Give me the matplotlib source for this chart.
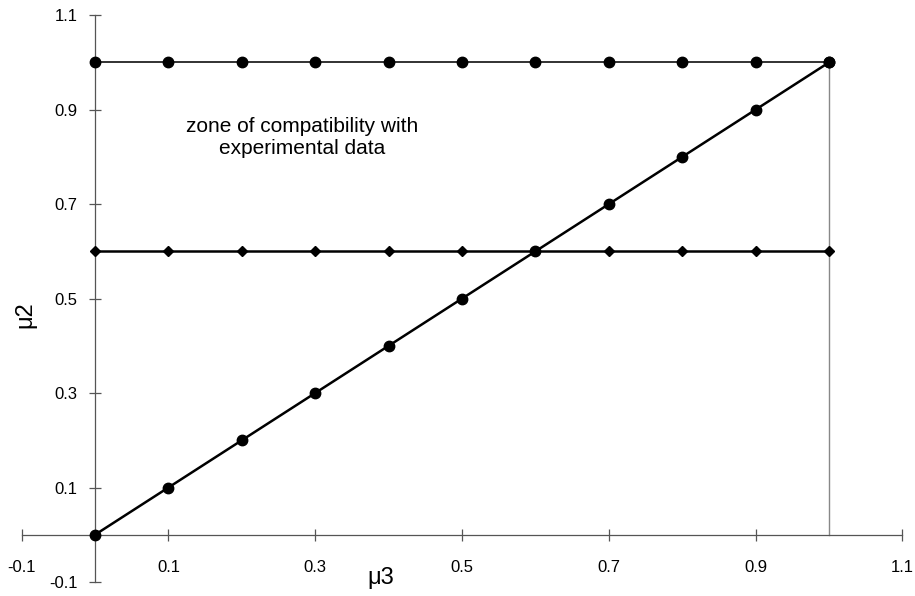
import matplotlib
matplotlib.use("Agg")
import matplotlib.pyplot as plt
import numpy as np

plt.rcParams['font.family'] = ['Liberation Sans', 'DejaVu Sans']

# data
mu3 = [0.0, 0.1, 0.2, 0.3, 0.4, 0.5, 0.6, 0.7, 0.8, 0.9, 1.0]
upper = [1.0, 1.0, 1.0, 1.0, 1.0, 1.0, 1.0, 1.0, 1.0, 1.0, 1.0]
lower = [0.6, 0.6, 0.6, 0.6, 0.6, 0.6, 0.6, 0.6, 0.6, 0.6, 0.6]
diag = [0.0, 0.1, 0.2, 0.3, 0.4, 0.5, 0.6, 0.7, 0.8, 0.9, 1.0]
edge_x = [1.0, 1.0]
edge_y = [0.0, 1.0]

ticks = [-0.1, 0.1, 0.3, 0.5, 0.7, 0.9, 1.1]
tick_labels = ["-0.1", "0.1", "0.3", "0.5", "0.7", "0.9", "1.1"]

zone_text = "zone of compatibility with\nexperimental data"

fig = plt.figure(figsize=(9.15, 5.96), dpi=100)
ax = fig.add_axes([0.0236, 0.0235, 0.9626, 0.951])

ax.plot(edge_x, edge_y, color="#888888", linewidth=1.0, zorder=2)
ax.plot(mu3, upper, color="#222222", linewidth=1.3, marker="o", markersize=7.5,
        markerfacecolor="black", markeredgecolor="black", zorder=3)
ax.plot(mu3, lower, color="black", linewidth=1.8, marker="D", markersize=5.2,
        markerfacecolor="black", markeredgecolor="black", zorder=3)
ax.plot(mu3, diag, color="black", linewidth=1.8, marker="o", markersize=7.5,
        markerfacecolor="black", markeredgecolor="black", zorder=4)

ax.text(0.282, 0.841, zone_text, ha="center", va="center", fontsize=15,
        linespacing=1.2)

ax.set_xlim(-0.1, 1.1)
ax.set_ylim(-0.1, 1.1)

for side in ["top", "right"]:
    ax.spines[side].set_visible(False)
for side in ["left", "bottom"]:
    ax.spines[side].set_position(("data", 0))
    ax.spines[side].set_color("#555555")
    ax.spines[side].set_linewidth(0.9)

ax.set_xticks(ticks)
ax.set_xticklabels(tick_labels)
ax.set_yticks(ticks)
ax.set_yticklabels(tick_labels)
ax.tick_params(axis="both", direction="inout", length=9, width=0.9,
               color="#555555", labelsize=12)
ax.tick_params(axis="x", pad=14)
ax.tick_params(axis="y", pad=8)

fig.text(381 / 915, 1 - 578 / 596, "μ3", ha="center", va="center", fontsize=17)
fig.text(25 / 915, 1 - 315 / 596, "μ2", ha="center", va="center", fontsize=17,
         rotation=90)

fig.savefig("out.png", dpi=100)
